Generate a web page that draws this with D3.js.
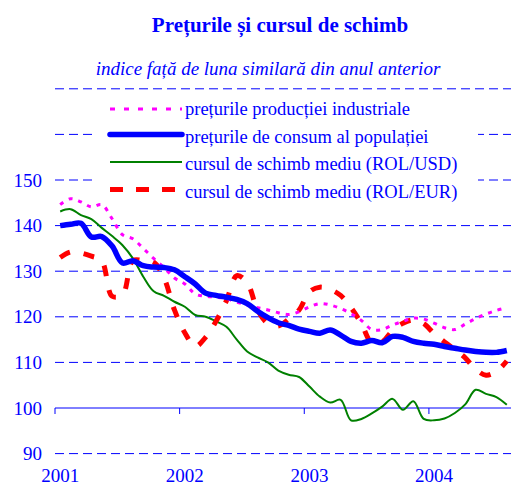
<!DOCTYPE html>
<html>
<head>
<meta charset="utf-8">
<script src="https://cdn.jsdelivr.net/npm/d3@7"></script>
<style>
  body { margin: 0; background: #fff; }
  svg { display: block; font-family: "Times New Roman", "Liberation Serif", serif; }
</style>
</head>
<body>
<div id="chart"></div>
<script>
// monthly data, Jan 2001 - Aug 2004
const years = ["2001", "2002", "2003", "2004"];
const yTicks = [90, 110, 120, 130, 140, 150, 160, 170];
const yLabels = [90, 100, 110, 120, 130, 140, 150];

const industrial = [144.6, 145.9, 145.2, 144.1, 144.6, 141.5, 138.0, 137.1, 135.0, 132.8, 130.8, 128.5,
  127.2, 125.0, 124.5, 124.3, 124.0, 123.2, 122.6, 122.0, 121.5, 120.9, 120.5, 121.1,
  122.2, 122.9, 122.6, 121.8, 120.7, 119.2, 117.2, 117.2, 118.2, 119.0, 119.7, 119.5,
  118.6, 117.6, 117.2, 118.4, 119.6, 120.6, 121.4, 122.0];
const consumer = [140.0, 140.3, 140.5, 137.5, 137.6, 135.5, 131.8, 132.3, 131.2, 130.9, 130.8, 130.3,
  128.8, 127.2, 125.2, 124.7, 124.3, 123.8, 122.9, 121.2, 119.8, 118.7, 118.1, 117.3,
  116.8, 116.4, 117.1, 116.0, 114.6, 114.2, 114.8, 114.3, 115.7, 115.5, 114.6, 114.2,
  114.0, 113.5, 113.1, 112.7, 112.4, 112.2, 112.2, 112.6];
const usd = [143.1, 143.6, 142.3, 141.4, 139.5, 137.7, 135.7, 132.8, 128.8, 125.6, 124.6, 123.3,
  122.2, 120.4, 120.0, 119.0, 117.8, 115.0, 112.4, 111.1, 110.0, 108.2, 107.3, 106.8,
  104.7, 102.5, 101.2, 101.8, 97.3, 97.6, 98.8, 100.3, 102.0, 99.6, 101.5, 97.6,
  97.3, 97.7, 98.9, 100.8, 104.0, 103.1, 102.4, 100.7];
const eur = [133.0, 134.2, 134.0, 133.3, 132.3, 124.5, 124.8, 132.3, 132.3, 132.0, 128.5, 121.5,
  116.5, 113.5, 115.5, 119.0, 123.5, 129.0, 127.5, 121.5, 118.5, 118.0, 119.5, 121.5,
  125.5, 126.5, 126.0, 124.7, 122.0, 118.5, 114.3, 114.5, 117.0, 118.6, 119.3, 118.5,
  116.3, 114.5, 112.8, 111.0, 108.5, 107.2, 108.0, 110.3];

const seriesNames = [
  "prețurile producției industriale",
  "prețurile de consum al populației",
  "cursul de schimb mediu (ROL/USD)",
  "cursul de schimb mediu (ROL/EUR)"
];

const width = 511, height = 485;
const blue = "#0000ff";

const svg = d3.select("#chart").append("svg")
  .attr("width", width)
  .attr("height", height);

const months = d3.range(industrial.length);
const x = d3.scaleBand().domain(months).range([55, 512]).padding(0);
const y = d3.scaleLinear().domain([90, 170]).range([453.6, 88.8]);
const cx = (i) => x(i) + x.bandwidth() / 2;

// title
svg.append("text")
  .attr("x", 280).attr("y", 32)
  .attr("text-anchor", "middle")
  .attr("font-size", 21).attr("font-weight", "bold")
  .attr("fill", blue)
  .text("Prețurile și cursul de schimb");

svg.append("text")
  .attr("x", 268).attr("y", 75)
  .attr("text-anchor", "middle")
  .attr("font-size", 19).attr("font-style", "italic")
  .attr("fill", blue)
  .text("indice față de luna similară din anul anterior");

// gridlines
svg.append("g")
  .selectAll("line")
  .data(yTicks)
  .join("line")
  .attr("x1", 55).attr("x2", 511)
  .attr("y1", (d) => y(d)).attr("y2", (d) => y(d))
  .attr("stroke", blue)
  .attr("stroke-width", 1)
  .attr("stroke-dasharray", "9,5");

// y labels
const yAxis = svg.append("g")
  .attr("transform", "translate(42,0)")
  .call(d3.axisLeft(y).tickValues(yLabels).tickSize(0).tickPadding(0));
yAxis.select(".domain").remove();
yAxis.selectAll("text")
  .attr("font-family", "\"Times New Roman\", \"Liberation Serif\", serif")
  .attr("font-size", 19)
  .attr("fill", blue);

// x axis at 100
svg.append("line")
  .attr("x1", 55).attr("x2", 511)
  .attr("y1", y(100)).attr("y2", y(100))
  .attr("stroke", blue).attr("stroke-width", 1);

svg.append("g")
  .selectAll("line")
  .data(years.map((d, i) => i * 12))
  .join("line")
  .attr("x1", (d) => x(d)).attr("x2", (d) => x(d))
  .attr("y1", y(100)).attr("y2", y(100) + 6)
  .attr("stroke", blue).attr("stroke-width", 1);

svg.append("g")
  .selectAll("text")
  .data(years)
  .join("text")
  .attr("x", (d, i) => cx(i * 12))
  .attr("y", 482)
  .attr("text-anchor", "middle")
  .attr("font-size", 19)
  .attr("fill", blue)
  .text((d) => d);

// lines
const line = d3.line()
  .x((d, i) => cx(i))
  .y((d) => y(d))
  .curve(d3.curveCatmullRom.alpha(0.5));

const styles = [
  { data: industrial, color: "#ff00ff", w: 3, dash: "4,6" },
  { data: consumer, color: blue, w: 5.5, dash: null },
  { data: usd, color: "#008000", w: 2, dash: null },
  { data: eur, color: "#ff0000", w: 5, dash: "11,14" }
];

// legend background
svg.append("rect")
  .attr("x", 93).attr("y", 94)
  .attr("width", 385).attr("height", 106)
  .attr("fill", "#fff");

[usd, eur, industrial, consumer].forEach((s) => {
  const st = styles.find((o) => o.data === s);
  svg.append("path")
    .datum(s)
    .attr("d", line)
    .attr("fill", "none")
    .attr("stroke", st.color)
    .attr("stroke-width", st.w)
    .attr("stroke-dasharray", st.dash);
});

// legend
const legend = svg.append("g");
const rowY = [109, 134.5, 162, 189.5];
const textY = [115, 143, 170, 198];
styles.forEach((st, i) => {
  legend.append("line")
    .attr("x1", 110).attr("x2", 182)
    .attr("y1", rowY[i]).attr("y2", rowY[i])
    .attr("stroke", st.color)
    .attr("stroke-width", st.w)
    .attr("stroke-linecap", i === 1 ? "round" : "butt")
    .attr("stroke-dasharray", i === 0 ? "5,9" : (i === 3 ? "13,13" : null));
  legend.append("text")
    .attr("x", 185).attr("y", textY[i])
    .attr("font-size", 18.5)
    .attr("fill", blue)
    .text(seriesNames[i]);
});
</script>
</body>
</html>
